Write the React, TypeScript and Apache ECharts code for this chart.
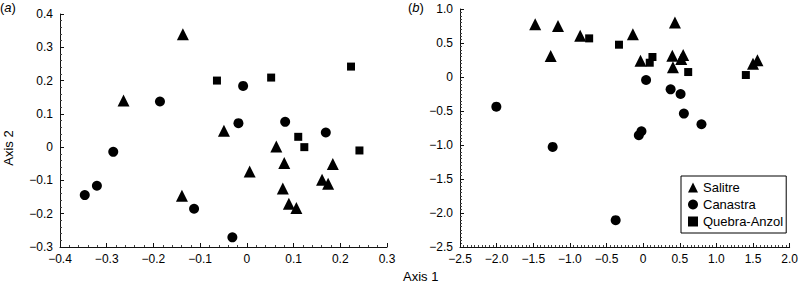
import React, { useEffect, useRef } from "react";
import * as echarts from "echarts";

// Panel (a)
const aSalitre: [number, number][] = [
  [-0.137, 0.339], [-0.264, 0.14], [-0.049, 0.049], [0.063, 0.002], [0.08, -0.048],
  [0.006, -0.073], [0.184, -0.051], [0.161, -0.098], [0.174, -0.11], [0.077, -0.124],
  [-0.139, -0.146], [0.09, -0.17], [0.106, -0.183],
];
const aCanastra: [number, number][] = [
  [-0.186, 0.137], [-0.008, 0.184], [-0.018, 0.072], [0.082, 0.076], [0.169, 0.044],
  [-0.286, -0.014], [-0.321, -0.116], [-0.347, -0.144], [-0.113, -0.185], [-0.031, -0.271],
];
const aQuebra: [number, number][] = [
  [-0.064, 0.2], [0.052, 0.209], [0.223, 0.242], [0.11, 0.031], [0.123, 0.0], [0.241, -0.01],
];

// Panel (b)
const bSalitre: [number, number][] = [
  [-1.474, 0.775], [-1.162, 0.75], [-1.262, 0.31], [-0.859, 0.607], [-0.14, 0.627],
  [0.434, 0.803], [-0.036, 0.24], [0.398, 0.313], [0.547, 0.323], [0.52, 0.264],
  [0.407, 0.142], [1.5, 0.196], [1.56, 0.245],
];
const bCanastra: [number, number][] = [
  [-2.004, -0.436], [0.04, -0.044], [0.375, -0.181], [0.511, -0.25], [0.556, -0.538],
  [0.796, -0.695], [-0.023, -0.798], [-0.059, -0.857], [-1.235, -1.028], [-0.375, -2.105],
];
const bQuebra: [number, number][] = [
  [-0.737, 0.568], [-0.33, 0.475], [0.127, 0.294], [0.09, 0.21], [0.615, 0.073], [1.402, 0.029],
];

const groupNames = ["Salitre", "Canastra", "Quebra-Anzol"];
const groupSymbols = ["triangle", "circle", "rect"];
const groupSizes = [12, 10, 8];

const FONT = "Liberation Sans, Arial, Helvetica, sans-serif";

function fmt(v: number, dec: number) {
  if (Math.abs(v) < 1e-9) return "0";
  const s = Math.abs(v).toFixed(dec);
  return (v < 0 ? "\u2212" : "") + s;
}

function axisCommon(min: number, max: number, interval: number, dec: number, minorSplit: number, margin: number) {
  return {
    type: "value",
    min,
    max,
    interval,
    axisLine: { show: true, onZero: false, lineStyle: { color: "#111", width: 1 } },
    axisTick: { show: true, inside: true, length: 4, lineStyle: { color: "#111" } },
    minorTick: { show: true, splitNumber: minorSplit, length: 2, lineStyle: { color: "#444" } },
    splitLine: { show: false },
    minorSplitLine: { show: false },
    axisLabel: {
      color: "#000",
      fontSize: 12,
      margin,
      fontFamily: FONT,
      formatter: (v: number) => fmt(v, dec),
    },
  };
}

export default function App() {
  const ref = useRef<HTMLDivElement>(null);
  useEffect(() => {
    document.body.style.margin = "0";
    if (!ref.current) return;
    const chart = echarts.init(ref.current, undefined, { renderer: "svg" });
    const sets = [
      [aSalitre, aCanastra, aQuebra],
      [bSalitre, bCanastra, bQuebra],
    ];
    const series: any[] = [];
    sets.forEach((s, gi) => {
      s.forEach((data, i) => {
        series.push({
          type: "scatter",
          name: groupNames[i],
          xAxisIndex: gi,
          yAxisIndex: gi,
          data,
          symbol: groupSymbols[i],
          symbolSize: groupSizes[i],
          itemStyle: { color: "#000", opacity: 1 },
          emphasis: { disabled: true },
        });
      });
    });
    const textStyle = (text: string, extra: any = {}) => ({
      text,
      fontSize: 13,
      fontFamily: FONT,
      fill: "#000",
      ...extra,
    });
    chart.setOption({
      animation: false,
      backgroundColor: "#fff",
      grid: [
        { left: 60, top: 14, width: 327, height: 233 },
        { left: 460, top: 9, width: 332, height: 238 },
      ],
      xAxis: [
        { ...axisCommon(-0.4, 0.3, 0.1, 1, 5, 6), gridIndex: 0 },
        { ...axisCommon(-2.5, 2.0, 0.5, 1, 10, 6), gridIndex: 1 },
      ],
      yAxis: [
        { ...axisCommon(-0.3, 0.4, 0.1, 1, 5, 7), gridIndex: 0 },
        { ...axisCommon(-2.5, 1.0, 0.5, 1, 10, 7), gridIndex: 1 },
      ],
      legend: {
        show: true,
        orient: "vertical",
        left: 681,
        top: 176,
        padding: [5, 3, 5, 7],
        itemGap: 4,
        itemWidth: 10,
        itemHeight: 10,
        borderColor: "#000",
        borderWidth: 1,
        backgroundColor: "#fff",
        selectedMode: false,
        textStyle: { color: "#000", fontSize: 13, fontFamily: FONT },
        data: groupNames.map((n, i) => ({ name: n, icon: groupSymbols[i], itemStyle: { color: "#000", opacity: 1 } })),
      },
      graphic: [
        {
          type: "text",
          left: 0,
          top: 1,
          style: textStyle("({i|a})", { rich: { i: { fontStyle: "italic", fontSize: 13, fontFamily: FONT, fill: "#000" } } }),
        },
        {
          type: "text",
          left: 408,
          top: 1,
          style: textStyle("({i|b})", { rich: { i: { fontStyle: "italic", fontSize: 13, fontFamily: FONT, fill: "#000" } } }),
        },
        {
          type: "text",
          x: 8,
          y: 148,
          rotation: Math.PI / 2,
          style: textStyle("Axis 2", { align: "center", verticalAlign: "middle" }),
        },
        {
          type: "text",
          x: 403,
          y: 276,
          style: textStyle("Axis 1", { align: "left", verticalAlign: "middle" }),
        },
      ],
      series,
    });
    return () => chart.dispose();
  }, []);
  return <div ref={ref} style={{ width: 801, height: 285 }} />;
}
